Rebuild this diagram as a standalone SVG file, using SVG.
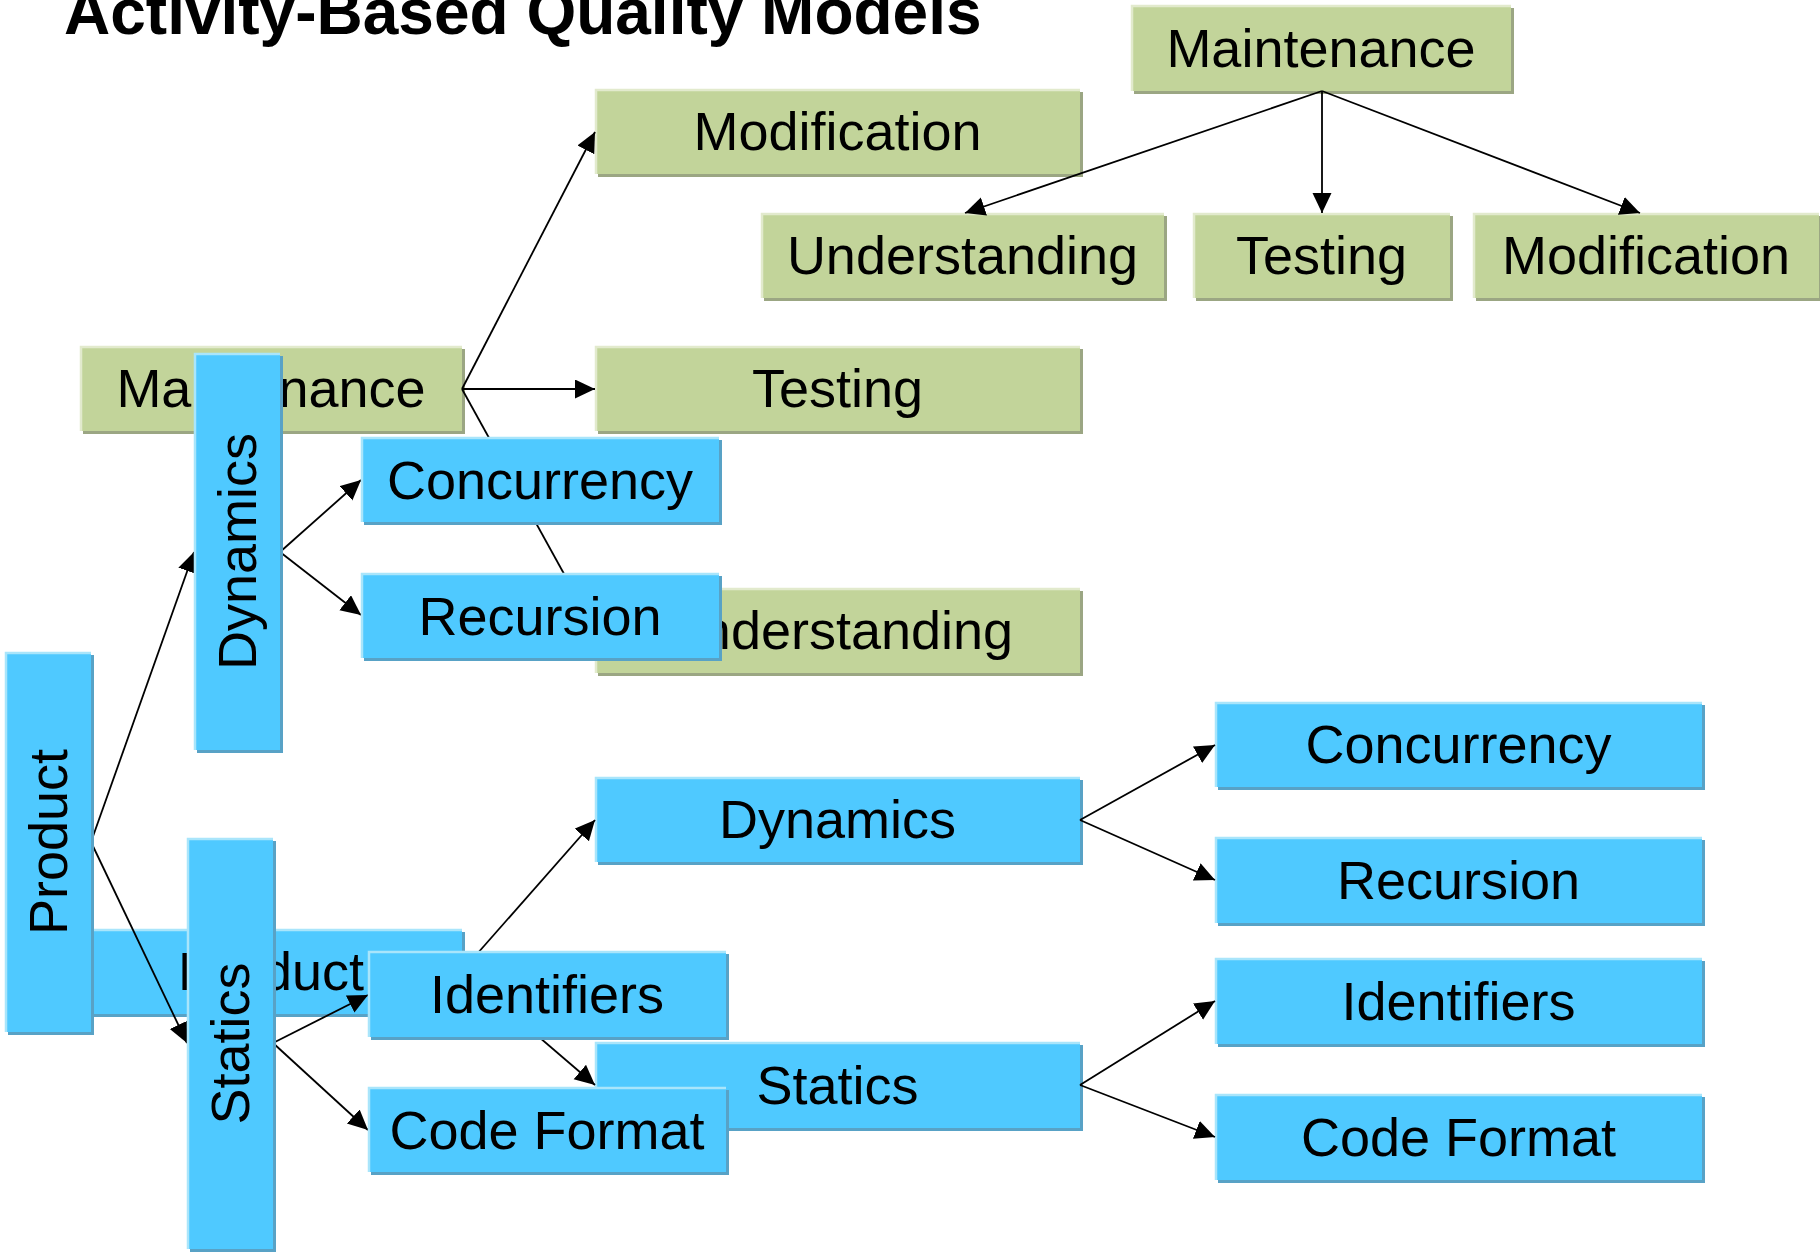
<svg xmlns="http://www.w3.org/2000/svg" width="1820" height="1254" viewBox="0 0 1820 1254">
<style>
  .title { font-family: "Liberation Sans", Arial, Helvetica, sans-serif; font-weight: bold; font-size: 64px; fill: #000; }
  .lbl { font-family: "Liberation Sans", Arial, Helvetica, sans-serif; font-size: 54px; fill: #000; text-anchor: middle; }
  .gs { fill: #9BA683; }
  .gf { fill: #C2D49A; }
  .gh { fill: none; stroke: #E2EACD; stroke-width: 2.5; }
  .bs { fill: #58A2C6; }
  .bf { fill: #4FC9FF; }
  .bh { fill: none; stroke: #A9E5FB; stroke-width: 2.5; }
  .edge { fill: none; stroke: #000; stroke-width: 1.8; marker-end: url(#arrow); }
</style>
<defs>
  <marker id="arrow" markerUnits="userSpaceOnUse" markerWidth="22" markerHeight="22" refX="20" refY="9.5" orient="auto">
    <path d="M0,0 L20,9.5 L0,19 z" fill="#000"/>
  </marker>
</defs>
<rect width="1820" height="1254" fill="#fff"/>
<text class="title" x="64" y="34">Activity-Based Quality Models</text>

<!-- green nodes -->
<g id="maintenance-top">
  <rect class="gs" x="1134" y="8" width="380" height="86"/>
  <rect class="gf" x="1131" y="5" width="380" height="86"/>
  <path class="gh" d="M1132,91 V6 H1511"/>
  <text class="lbl" x="1321" y="67">Maintenance</text>
</g>
<g id="understanding-top">
  <rect class="gs" x="764" y="216" width="403" height="85"/>
  <rect class="gf" x="761" y="213" width="403" height="85"/>
  <path class="gh" d="M762,298 V214 H1164"/>
  <text class="lbl" x="962.5" y="274">Understanding</text>
</g>
<g id="testing-top">
  <rect class="gs" x="1196" y="216" width="257" height="85"/>
  <rect class="gf" x="1193" y="213" width="257" height="85"/>
  <path class="gh" d="M1194,298 V214 H1450"/>
  <text class="lbl" x="1321.5" y="274">Testing</text>
</g>
<g id="modification-top">
  <rect class="gs" x="1476" y="216" width="346" height="85"/>
  <rect class="gf" x="1473" y="213" width="346" height="85"/>
  <path class="gh" d="M1474,298 V214 H1819"/>
  <text class="lbl" x="1646" y="274">Modification</text>
</g>
<g id="modification-mid">
  <rect class="gs" x="598" y="92" width="485" height="85"/>
  <rect class="gf" x="595" y="89" width="485" height="85"/>
  <path class="gh" d="M596,174 V90 H1080"/>
  <text class="lbl" x="837.5" y="150">Modification</text>
</g>
<g id="maintenance-left">
  <rect class="gs" x="83" y="349" width="382" height="85"/>
  <rect class="gf" x="80" y="346" width="382" height="85"/>
  <path class="gh" d="M81,431 V347 H462"/>
  <text class="lbl" x="271" y="407">Maintenance</text>
</g>
<g id="testing-mid">
  <rect class="gs" x="598" y="349" width="485" height="85"/>
  <rect class="gf" x="595" y="346" width="485" height="85"/>
  <path class="gh" d="M596,431 V347 H1080"/>
  <text class="lbl" x="837.5" y="407">Testing</text>
</g>
<g id="understanding-mid">
  <rect class="gs" x="598" y="591" width="485" height="85"/>
  <rect class="gf" x="595" y="588" width="485" height="85"/>
  <path class="gh" d="M596,673 V589 H1080"/>
  <text class="lbl" x="837.5" y="649">Understanding</text>
</g>

<!-- blue nodes, horizontal layout -->
<g id="product-horizontal">
  <rect class="bs" x="83" y="932" width="382" height="85"/>
  <rect class="bf" x="80" y="929" width="382" height="85"/>
  <path class="bh" d="M81,1014 V930 H462"/>
  <text class="lbl" x="271" y="990">Product</text>
</g>
<g id="dynamics-mid">
  <rect class="bs" x="598" y="780" width="485" height="85"/>
  <rect class="bf" x="595" y="777" width="485" height="85"/>
  <path class="bh" d="M596,862 V778 H1080"/>
  <text class="lbl" x="837.5" y="838">Dynamics</text>
</g>
<g id="statics-mid">
  <rect class="bs" x="598" y="1045" width="485" height="86"/>
  <rect class="bf" x="595" y="1042" width="485" height="86"/>
  <path class="bh" d="M596,1128 V1043 H1080"/>
  <text class="lbl" x="837.5" y="1104">Statics</text>
</g>
<g id="concurrency-right">
  <rect class="bs" x="1218" y="705" width="487" height="85"/>
  <rect class="bf" x="1215" y="702" width="487" height="85"/>
  <path class="bh" d="M1216,787 V703 H1702"/>
  <text class="lbl" x="1458.5" y="763">Concurrency</text>
</g>
<g id="recursion-right">
  <rect class="bs" x="1218" y="840" width="487" height="86"/>
  <rect class="bf" x="1215" y="837" width="487" height="86"/>
  <path class="bh" d="M1216,923 V838 H1702"/>
  <text class="lbl" x="1458.5" y="899">Recursion</text>
</g>
<g id="identifiers-right">
  <rect class="bs" x="1218" y="961" width="487" height="86"/>
  <rect class="bf" x="1215" y="958" width="487" height="86"/>
  <path class="bh" d="M1216,1044 V959 H1702"/>
  <text class="lbl" x="1458.5" y="1020">Identifiers</text>
</g>
<g id="codeformat-right">
  <rect class="bs" x="1218" y="1097" width="487" height="86"/>
  <rect class="bf" x="1215" y="1094" width="487" height="86"/>
  <path class="bh" d="M1216,1180 V1095 H1702"/>
  <text class="lbl" x="1458.5" y="1156">Code Format</text>
</g>

<!-- connectors -->
<g id="connectors">
  <line class="edge" x1="1322" y1="91" x2="965" y2="213"/>
  <line class="edge" x1="1322" y1="91" x2="1322" y2="213"/>
  <line class="edge" x1="1322" y1="91" x2="1640" y2="213"/>
  <line class="edge" x1="462" y1="389" x2="595" y2="132"/>
  <line class="edge" x1="462" y1="389" x2="595" y2="389"/>
  <line class="edge" x1="462" y1="389" x2="595" y2="630"/>
  <line class="edge" x1="91" y1="842" x2="194" y2="552"/>
  <line class="edge" x1="91" y1="842" x2="187" y2="1043"/>
  <line class="edge" x1="280" y1="552" x2="361" y2="480"/>
  <line class="edge" x1="280" y1="552" x2="361" y2="615"/>
  <line class="edge" x1="273" y1="1043" x2="368" y2="995"/>
  <line class="edge" x1="273" y1="1043" x2="368" y2="1130"/>
  <line class="edge" x1="462" y1="971" x2="595" y2="820"/>
  <line class="edge" x1="462" y1="971" x2="595" y2="1085"/>
  <line class="edge" x1="1080" y1="820" x2="1215" y2="745"/>
  <line class="edge" x1="1080" y1="820" x2="1215" y2="880"/>
  <line class="edge" x1="1080" y1="1085" x2="1215" y2="1001"/>
  <line class="edge" x1="1080" y1="1085" x2="1215" y2="1137"/>
</g>

<!-- blue nodes, vertical layout -->
<g id="product-vertical">
  <rect class="bs" x="8" y="655" width="86" height="380"/>
  <rect class="bf" x="5" y="652" width="86" height="380"/>
  <path class="bh" d="M6,1032 V653 H91"/>
  <text class="lbl" transform="translate(48,842) rotate(-90)" x="0" y="19">Product</text>
</g>
<g id="dynamics-vertical">
  <rect class="bs" x="197" y="356" width="86" height="397"/>
  <rect class="bf" x="194" y="353" width="86" height="397"/>
  <path class="bh" d="M195,750 V354 H280"/>
  <text class="lbl" transform="translate(237,551.5) rotate(-90)" x="0" y="19">Dynamics</text>
</g>
<g id="statics-vertical">
  <rect class="bs" x="190" y="841" width="86" height="411"/>
  <rect class="bf" x="187" y="838" width="86" height="411"/>
  <path class="bh" d="M188,1249 V839 H273"/>
  <text class="lbl" transform="translate(230,1043.5) rotate(-90)" x="0" y="19">Statics</text>
</g>
<g id="concurrency-small">
  <rect class="bs" x="364" y="440" width="358" height="85"/>
  <rect class="bf" x="361" y="437" width="358" height="85"/>
  <path class="bh" d="M362,522 V438 H719"/>
  <text class="lbl" x="540" y="499">Concurrency</text>
</g>
<g id="recursion-small">
  <rect class="bs" x="364" y="576" width="358" height="85"/>
  <rect class="bf" x="361" y="573" width="358" height="85"/>
  <path class="bh" d="M362,658 V574 H719"/>
  <text class="lbl" x="540" y="635">Recursion</text>
</g>
<g id="identifiers-small">
  <rect class="bs" x="371" y="954" width="358" height="86"/>
  <rect class="bf" x="368" y="951" width="358" height="86"/>
  <path class="bh" d="M369,1037 V952 H726"/>
  <text class="lbl" x="547" y="1013">Identifiers</text>
</g>
<g id="codeformat-small">
  <rect class="bs" x="371" y="1090" width="358" height="85"/>
  <rect class="bf" x="368" y="1087" width="358" height="85"/>
  <path class="bh" d="M369,1172 V1088 H726"/>
  <text class="lbl" x="547" y="1149">Code Format</text>
</g>
</svg>
